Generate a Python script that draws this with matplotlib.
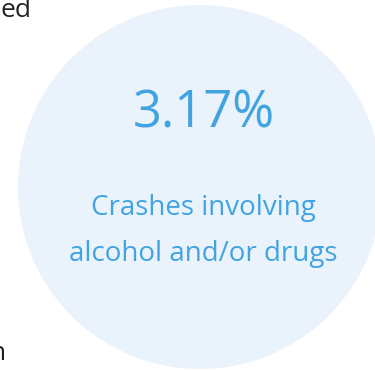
import matplotlib.pyplot as plt
from matplotlib.patches import Circle

# Values shown in the tile
percent = 3.17
caption = ["Crashes involving", "alcohol and/or drugs"]
cut_text = ["ed", "n"]  # clipped words from the neighbouring panel

blue = "#41A3E0"
pale = "#EAF3FB"

fig = plt.figure(figsize=(3.75, 3.7), dpi=100)
ax = fig.add_axes([0, 0, 1, 1])
ax.set_xlim(0, 375)
ax.set_ylim(370, 0)
ax.axis("off")

ax.add_patch(Circle((200, 187), 182, color=pale, lw=0))

ax.text(204, 128, f"{percent:.2f}%", ha="center", va="baseline",
        color=blue, fontsize=36.5, family="Open Sans")
ax.text(203, 215, caption[0], ha="center", va="baseline",
        color=blue, fontsize=20, family="Open Sans")
ax.text(203, 261, caption[1], ha="center", va="baseline",
        color=blue, fontsize=20, family="Open Sans")

# clipped labels at the left edge
ax.text(32, 17, cut_text[0], ha="right", va="baseline",
        color="#222222", fontsize=19, family="Open Sans")
ax.text(6, 360, cut_text[1], ha="right", va="baseline",
        color="#222222", fontsize=19, family="Open Sans")

fig.savefig("out.png", dpi=100)
